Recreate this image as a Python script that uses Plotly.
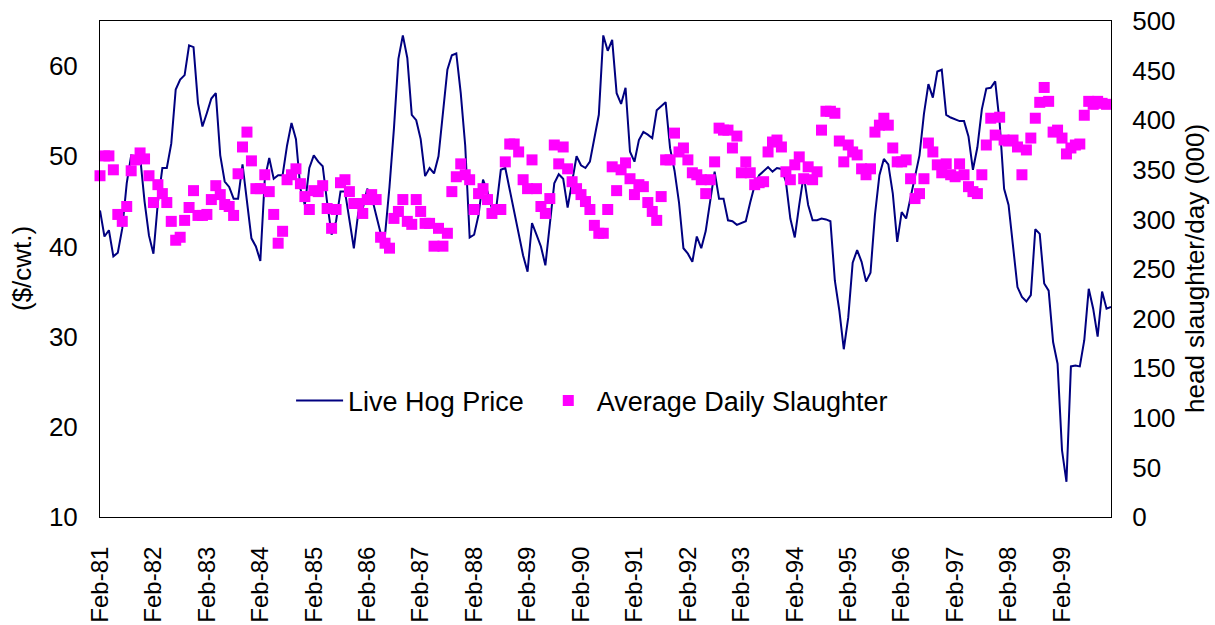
import plotly.graph_objects as go

# Monthly data Feb-81 .. Dec-99 (227 months)
tick_labels = ["Feb-81", "Feb-82", "Feb-83", "Feb-84", "Feb-85", "Feb-86", "Feb-87",
               "Feb-88", "Feb-89", "Feb-90", "Feb-91", "Feb-92", "Feb-93", "Feb-94",
               "Feb-95", "Feb-96", "Feb-97", "Feb-98", "Feb-99"]

hog_price = [
    44.0, 41.1, 41.8, 38.9, 39.3, 42.0, 47.0, 50.1, 50.0, 50.0,
    45.0, 41.2, 39.2, 44.9, 48.7, 48.7, 51.4, 57.4, 58.5, 59.0,
    62.3, 62.1, 55.9, 53.3, 54.8, 56.4, 57.0, 50.1, 47.2, 46.6,
    45.3, 45.3, 49.1, 44.9, 40.9, 40.0, 38.4, 47.5, 49.8, 47.5,
    47.9, 47.9, 51.2, 53.7, 51.9, 46.4, 44.6, 48.7, 50.1, 49.4,
    48.9, 44.9, 41.3, 42.8, 46.1, 46.1, 43.1, 39.8, 43.8, 44.2,
    46.4, 45.5, 43.5, 41.5, 41.3, 46.6, 53.1, 60.8, 63.4, 60.9,
    54.6, 54.0, 51.9, 47.8, 48.7, 48.1, 50.0, 54.9, 59.6, 61.2,
    61.4, 57.0, 51.2, 41.0, 41.3, 43.5, 47.4, 46.1, 44.2, 44.4,
    48.5, 48.7, 46.3, 43.5, 41.1, 39.0, 37.2, 42.6, 41.3, 40.0,
    37.9, 42.8, 47.0, 48.0, 47.5, 44.3, 47.0, 50.0, 49.0, 48.7,
    49.4, 51.9, 54.6, 63.4, 61.7, 62.9, 57.0, 55.8, 57.6, 50.5,
    49.4, 51.8, 52.7, 52.4, 52.0, 55.1, 55.5, 56.0, 50.9, 48.4,
    44.9, 39.8, 39.2, 38.3, 41.1, 39.8, 41.7, 44.9, 48.3, 45.3,
    45.3, 42.9, 42.8, 42.4, 42.6, 42.8, 44.9, 46.8, 47.9, 48.4,
    48.8, 48.3, 48.7, 48.6, 47.2, 43.1, 41.0, 44.6, 47.9, 44.6,
    42.9, 42.9, 43.1, 43.0, 42.8, 36.2, 32.9, 28.6, 32.1, 38.2,
    39.6, 38.3, 36.1, 37.1, 43.5, 47.9, 49.7, 49.1, 45.9, 40.5,
    43.8, 43.1, 45.5, 47.5, 50.1, 54.7, 58.0, 56.5, 59.4, 59.6,
    54.6, 54.3, 54.1, 53.9, 53.9, 52.2, 48.5, 51.0, 55.2, 57.5,
    57.6, 58.3, 53.7, 46.4, 44.6, 40.1, 35.5, 34.4, 33.9, 34.6,
    41.9, 41.4, 35.9, 35.1, 29.4, 27.0, 17.4, 13.9, 26.7, 26.8,
    26.7, 29.6, 35.3, 33.1, 30.0, 35.0, 33.1, 33.3,
]

slaughter = [
    344, 364, 364, 350, 305, 298, 313, 349, 360, 367,
    361, 344, 317, 335, 326, 317, 298, 279, 282, 299,
    312, 329, 304, 304, 305, 320, 334, 325, 315, 313,
    304, 346, 373, 388, 359, 331, 331, 345, 328, 305,
    276, 288, 340, 345, 351, 336, 323, 310, 329, 328,
    334, 311, 291, 310, 337, 340, 328, 316, 316, 306,
    320, 325, 320, 282, 276, 271, 301, 308, 320, 298,
    295, 320, 308, 296, 296, 273, 291, 273, 286, 328,
    343, 356, 345, 340, 310, 326, 331, 320, 306, 310,
    310, 358, 376, 376, 368, 340, 331, 360, 331, 313,
    306, 321, 375, 356, 373, 351, 338, 331, 325, 318,
    310, 294, 286, 286, 310, 353, 329, 350, 357, 341,
    325, 335, 333, 317, 308, 299, 323, 360, 360, 387,
    368, 372, 360, 347, 345, 340, 326, 340, 358, 392,
    390, 390, 372, 384, 347, 358, 347, 335, 337, 338,
    368, 378, 380, 373, 348, 340, 355, 363, 341, 353,
    340, 348, 390, 409, 409, 407, 379, 358, 375, 368,
    365, 351, 345, 351, 388, 395, 402, 395, 372, 358,
    358, 360, 341, 321, 326, 341, 377, 368, 355, 347,
    356, 345, 343, 356, 345, 333, 328, 326, 345, 375,
    402, 385, 403, 380, 379, 380, 373, 345, 370, 382,
    402, 418, 433, 419, 388, 390, 382, 366, 372, 375,
    376, 405, 419, 416, 419, 417, 416,
]

n = len(hog_price)
x_idx = list(range(n))
tick_vals = [12 * k for k in range(len(tick_labels))]

FONT = "Liberation Sans, Arial, sans-serif"
FS = 26

fig = go.Figure()
fig.add_trace(go.Scatter(
    x=x_idx, y=hog_price, mode="lines", name="Live Hog Price",
    line=dict(color="#000080", width=2), yaxis="y", legend="legend",
))
fig.add_trace(go.Scatter(
    x=x_idx[:len(slaughter)], y=slaughter, mode="markers", name="Average Daily Slaughter",
    marker=dict(symbol="square", size=11, color="#FF00FF", line=dict(width=0)),
    yaxis="y2", cliponaxis=False, legend="legend2",
))

leg_common = dict(orientation="h", y=0.234, xanchor="left", yanchor="middle",
                  bgcolor="rgba(0,0,0,0)", font=dict(size=27), itemwidth=47)

fig.update_layout(
    width=1215, height=625,
    margin=dict(l=100, r=104, t=21, b=108, autoexpand=False),
    paper_bgcolor="white", plot_bgcolor="white",
    font=dict(family=FONT, size=FS, color="black"),
    showlegend=True,
    legend=dict(x=0.189, **leg_common),
    legend2=dict(x=0.435, **leg_common),
    xaxis=dict(
        range=[0, n - 1], tickmode="array", tickvals=tick_vals, ticktext=tick_labels,
        tickangle=-90, showgrid=False, zeroline=False, showline=True,
        linecolor="black", linewidth=1, mirror=True,
        ticks="outside", ticklen=19, tickcolor="rgba(0,0,0,0)",
        tickfont=dict(size=24), automargin=False, ticklabeloverflow="allow",
    ),
    yaxis=dict(
        range=[10, 65], tickvals=[10, 20, 30, 40, 50, 60], showgrid=False,
        zeroline=False, showline=True, linecolor="black", linewidth=1, mirror=True,
        ticks="outside", ticklen=16, tickcolor="rgba(0,0,0,0)",
        tickfont=dict(size=FS), automargin=False, ticklabeloverflow="allow",
    ),
    yaxis2=dict(
        range=[0, 500], tickmode="linear", tick0=0, dtick=50, overlaying="y",
        side="right", showgrid=False, zeroline=False, showline=False,
        ticks="outside", ticklen=15, tickcolor="rgba(0,0,0,0)",
        tickfont=dict(size=FS), automargin=False, ticklabeloverflow="allow",
    ),
    annotations=[
        dict(text="($/cwt.)", xref="paper", yref="paper", x=0, y=0.5,
             xshift=-78, textangle=-90, showarrow=False,
             xanchor="center", yanchor="middle", font=dict(size=FS)),
        dict(text="head slaughter/day (000)", xref="paper", yref="paper", x=1, y=0.5,
             xshift=84, textangle=-90, showarrow=False,
             xanchor="center", yanchor="middle", font=dict(size=FS)),
    ],
)

fig.write_html("out.html", config={"displayModeBar": False},
               post_script="document.body.style.margin='0px';document.body.style.overflow='hidden';")
